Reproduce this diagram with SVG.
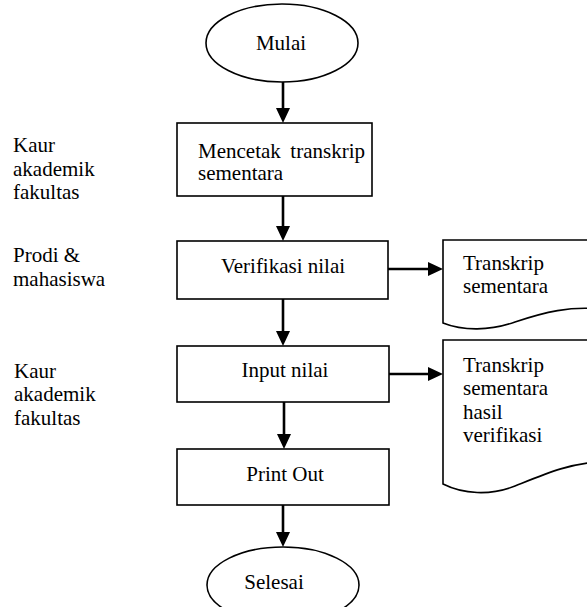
<svg xmlns="http://www.w3.org/2000/svg" width="587" height="607" viewBox="0 0 587 607">
  <style>
    .shape { fill: #fff; stroke: #000; stroke-width: 1.6; }
    .edge { fill: none; stroke: #000; stroke-width: 2.6; marker-end: url(#head); }
    text { font-family: "Liberation Serif", "Times New Roman", serif; font-size: 21px; fill: #000; }
    .mid { text-anchor: middle; }
  </style>
  <defs>
    <marker id="head" markerUnits="userSpaceOnUse" markerWidth="16" markerHeight="16" viewBox="0 0 16 16" refX="0" refY="8" orient="auto">
      <path d="M0,1 L15,8 L0,15 Z" fill="#000"/>
    </marker>
  </defs>

  <!-- role labels -->
  <g id="role-kaur-1">
    <text x="13" y="152">Kaur</text>
    <text x="13" y="176">akademik</text>
    <text x="13" y="199">fakultas</text>
  </g>
  <g id="role-prodi">
    <text x="13" y="262">Prodi &amp;</text>
    <text x="13" y="286">mahasiswa</text>
  </g>
  <g id="role-kaur-2">
    <text x="14" y="378">Kaur</text>
    <text x="14" y="401">akademik</text>
    <text x="14" y="425">fakultas</text>
  </g>

  <!-- flow nodes -->
  <g id="mulai">
    <ellipse class="shape" cx="282" cy="43" rx="76" ry="39"/>
    <text class="mid" x="281" y="50">Mulai</text>
  </g>
  <g id="mencetak">
    <rect class="shape" x="177" y="123" width="195" height="73"/>
    <text x="198" y="158" word-spacing="4.3">Mencetak transkrip</text>
    <text x="198" y="180">sementara</text>
  </g>
  <g id="verifikasi">
    <rect class="shape" x="177" y="241" width="211" height="58"/>
    <text class="mid" x="283" y="273">Verifikasi nilai</text>
  </g>
  <g id="input">
    <rect class="shape" x="177" y="346" width="212" height="56"/>
    <text class="mid" x="285" y="377">Input nilai</text>
  </g>
  <g id="printout">
    <rect class="shape" x="177" y="449" width="212" height="56"/>
    <text class="mid" x="285" y="481">Print Out</text>
  </g>
  <g id="selesai">
    <ellipse class="shape" cx="283" cy="585" rx="76" ry="38"/>
    <text class="mid" x="274" y="589">Selesai</text>
  </g>

  <!-- documents -->
  <g id="doc-transkrip">
    <path class="shape" d="M443,240 H600 V309 C570,306 545,312 515,322 C490,331 463,331 443,323 Z"/>
    <text x="463" y="270">Transkrip</text>
    <text x="463" y="293">sementara</text>
  </g>
  <g id="doc-transkrip-verif">
    <path class="shape" d="M443,340 H600 V462 C570,463 545,474 515,486 C490,496 463,494 443,484 Z"/>
    <text x="463" y="372">Transkrip</text>
    <text x="463" y="395">sementara</text>
    <text x="463" y="419">hasil</text>
    <text x="463" y="442">verifikasi</text>
  </g>

  <!-- connectors -->
  <g id="connectors">
    <line class="edge" x1="283" y1="82" x2="283" y2="108"/>
    <line class="edge" x1="283" y1="196" x2="283" y2="226"/>
    <line class="edge" x1="283" y1="299" x2="283" y2="331"/>
    <line class="edge" x1="284" y1="402" x2="284" y2="434"/>
    <line class="edge" x1="283" y1="505" x2="283" y2="532"/>
    <line class="edge" x1="388" y1="269" x2="428" y2="269"/>
    <line class="edge" x1="389" y1="374" x2="428" y2="374"/>
  </g>
</svg>
